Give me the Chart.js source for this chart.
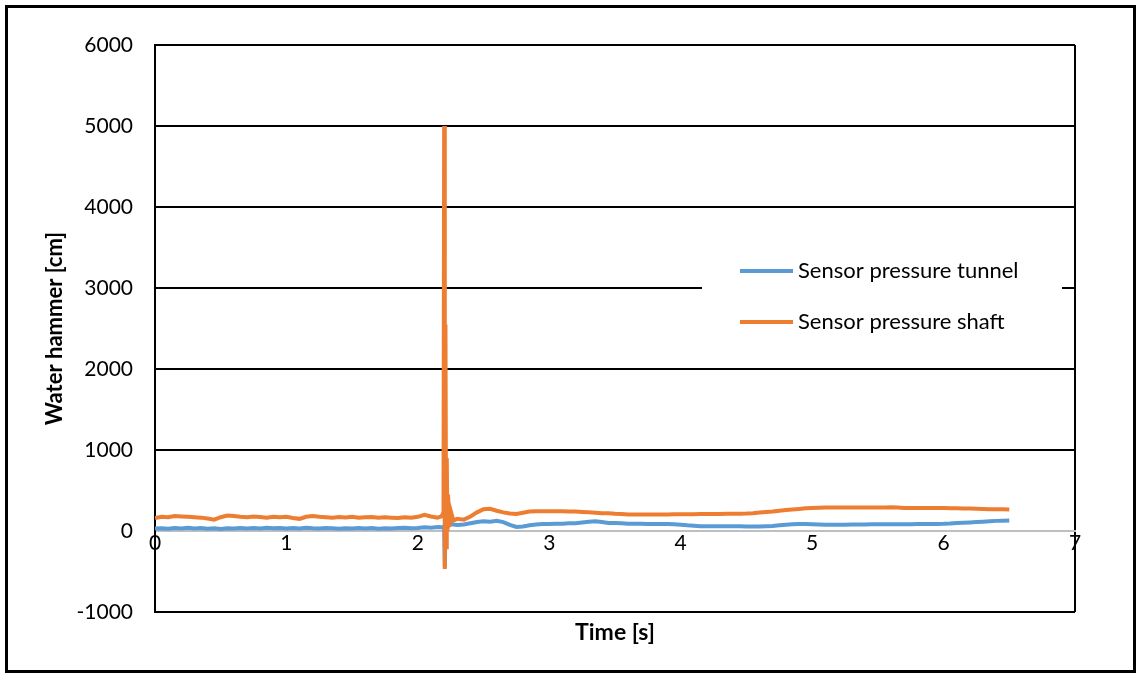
<!DOCTYPE html>
<html>
<head>
<meta charset="utf-8">
<script src="https://cdn.jsdelivr.net/npm/chart.js@4.4.1/dist/chart.umd.min.js"></script>
<style>
  body { margin: 0; background: #fff; }
  #wrap { width: 1138px; height: 675px; position: relative; }
</style>
</head>
<body>
<div id="wrap"><canvas id="chart"></canvas></div>
<script>
// time [s]
const time = [
    0, 0.05, 0.1, 0.15, 0.2, 0.25, 0.3, 0.35, 0.4, 0.45,
    0.5, 0.55, 0.6, 0.65, 0.7, 0.75, 0.8, 0.85, 0.9, 0.95,
    1.0, 1.05, 1.1, 1.15, 1.2, 1.25, 1.3, 1.35, 1.4, 1.45,
    1.5, 1.55, 1.6, 1.65, 1.7, 1.75, 1.8, 1.85, 1.9, 1.95,
    2.0, 2.05, 2.1, 2.15,
    // around the surge
    2.18, 2.195, 2.2, 2.205, 2.21, 2.215, 2.22, 2.225, 2.23, 2.24, 2.25, 2.27, 2.3,
    2.35, 2.4, 2.45, 2.5, 2.55, 2.6, 2.65, 2.7, 2.75, 2.8,
    2.85, 2.9, 2.95, 3.0, 3.05, 3.1, 3.15, 3.2, 3.25, 3.3,
    3.35, 3.4, 3.45, 3.5, 3.55, 3.6, 3.65, 3.7, 3.75, 3.8,
    3.85, 3.9, 3.95, 4.0, 4.05, 4.1, 4.15, 4.2, 4.25, 4.3,
    4.35, 4.4, 4.45, 4.5, 4.55, 4.6, 4.65, 4.7, 4.75, 4.8,
    4.85, 4.9, 4.95, 5.0, 5.05, 5.1, 5.15, 5.2, 5.25, 5.3,
    5.35, 5.4, 5.45, 5.5, 5.55, 5.6, 5.65, 5.7, 5.75, 5.8,
    5.85, 5.9, 5.95, 6.0, 6.05, 6.1, 6.15, 6.2, 6.25, 6.3,
    6.35, 6.4, 6.45, 6.5
];

const tunnel = [
    30, 35, 28, 38, 32, 40, 30, 36, 28, 33,
    25, 34, 30, 38, 32, 36, 30, 40, 34, 38,
    30, 36, 32, 40, 34, 30, 38, 33, 28, 35,
    30, 38, 32, 36, 28, 34, 30, 38, 40, 35,
    38, 45, 40, 48,
    45, 50, 60, -440, 100, 60, 70, 50, 80, 70, 85, 80, 75,
    80, 95, 110, 120, 115, 125, 110, 75, 50, 55,
    70, 80, 85, 85, 90, 90, 95, 95, 105, 115,
    120, 110, 100, 100, 95, 90, 90, 88, 85, 85,
    85, 85, 82, 78, 70, 65, 60, 58, 58, 60,
    60, 60, 58, 55, 55, 55, 58, 62, 70, 78,
    82, 85, 85, 82, 80, 78, 78, 78, 78, 80,
    80, 80, 82, 82, 82, 84, 84, 84, 84, 85,
    85, 85, 86, 88, 92, 98, 102, 106, 110, 115,
    120, 125, 128, 130
];

const shaft = [
    160, 175, 170, 185, 180, 175, 170, 165, 155, 140,
    170, 190, 185, 175, 170, 178, 172, 165, 175, 170,
    175, 160, 150, 175, 185, 175, 170, 165, 172, 168,
    175, 165, 170, 172, 165, 170, 165, 160, 170, 165,
    175, 200, 180, 165,
    180, 230, 5000, -470, 2550, -200, 900, 0, 450, 50, 250, 130, 150,
    140, 180, 230, 270, 275, 250, 230, 215, 210, 225,
    240, 245, 245, 245, 245, 245, 240, 240, 235, 230,
    225, 220, 218, 212, 210, 205, 205, 205, 205, 205,
    205, 205, 207, 208, 208, 208, 210, 210, 210, 210,
    212, 212, 212, 215, 220, 228, 235, 240, 250, 258,
    265, 272, 280, 285, 288, 290, 290, 290, 290, 290,
    290, 290, 290, 290, 290, 292, 290, 285, 283, 283,
    283, 283, 283, 283, 282, 280, 278, 278, 275, 272,
    270, 270, 268, 265
];

const seriesNames = ['Sensor pressure tunnel', 'Sensor pressure shaft'];
const seriesColors = ['#5B9BD5', '#ED7D31'];
const xTitle = 'Time [s]';
const yTitle = 'Water hammer [cm]';

const FONT = 'Lato, "Noto Sans", sans-serif';

function toPoints(values) {
    return time.map((t, i) => ({ x: t, y: values[i] }));
}

// frame round the whole picture + legend box inside the plot
const decorPlugin = {
    id: 'decor',
    afterDraw(chart) {
        const ctx = chart.ctx;
        ctx.save();
        // legend
        ctx.fillStyle = '#fff';
        ctx.fillRect(702, 250, 360, 100);
        ctx.font = '22px ' + FONT;
        ctx.textBaseline = 'middle';
        ctx.textAlign = 'left';
        chart.data.datasets.forEach((ds, i) => {
            const y = 271 + i * 51;
            ctx.strokeStyle = ds.borderColor;
            ctx.lineWidth = 4;
            ctx.beginPath();
            ctx.moveTo(740, y);
            ctx.lineTo(793, y);
            ctx.stroke();
            ctx.fillStyle = '#000';
            ctx.fillText(ds.label, 798, y);
        });
        // outer frame
        ctx.strokeStyle = '#000';
        ctx.lineWidth = 3;
        ctx.strokeRect(6.5, 6.5, 1128, 665);
        ctx.restore();
    }
};

new Chart(document.getElementById('chart'), {
    type: 'line',
    data: {
        datasets: [
            {
                label: seriesNames[0],
                data: toPoints(tunnel),
                borderColor: seriesColors[0],
                borderWidth: 4,
                pointRadius: 0,
                tension: 0,
                order: 1
            },
            {
                label: seriesNames[1],
                data: toPoints(shaft),
                borderColor: seriesColors[1],
                borderWidth: 4,
                pointRadius: 0,
                tension: 0,
                order: 0
            }
        ]
    },
    options: {
        responsive: true,
        maintainAspectRatio: false,
        animation: false,
        layout: { padding: { left: 8, right: 63, top: 45, bottom: 8 } },
        plugins: {
            legend: { display: false },
            tooltip: { enabled: false }
        },
        scales: {
            x: {
                type: 'linear',
                position: { y: 0 },
                min: 0,
                max: 7,
                ticks: { stepSize: 1, padding: 0, color: '#000', font: { family: FONT, size: 21 } },
                grid: {
                    drawTicks: false,
                    lineWidth: 2,
                    color: c => (c.tick && c.tick.value === 7) ? '#000' : 'rgba(0,0,0,0)'
                },
                border: { color: '#bfbfbf', width: 2 }
            },
            x2: {
                type: 'linear',
                axis: 'x',
                position: 'bottom',
                min: 0,
                max: 7,
                ticks: { display: false },
                grid: { display: false },
                border: { display: false },
                title: {
                    display: true,
                    text: xTitle,
                    color: '#000',
                    font: { family: FONT, size: 23, weight: 'bold', lineHeight: 1.2 },
                    padding: { top: 0, bottom: 21 }
                },
                afterFit: s => { s.height = 55; }
            },
            y: {
                min: -1000,
                max: 6000,
                ticks: {
                    stepSize: 1000,
                    padding: 22,
                    color: '#000',
                    font: { family: FONT, size: 21 },
                    callback: v => String(v)
                },
                grid: {
                    drawTicks: false,
                    lineWidth: 2,
                    color: c => (c.tick && c.tick.value === 0) ? '#bfbfbf' : '#000'
                },
                border: { color: '#000', width: 2 },
                title: {
                    display: true,
                    text: yTitle,
                    color: '#000',
                    font: { family: FONT, size: 22, weight: 'bold', lineHeight: 1.2 },
                    padding: { top: 34, bottom: 0 }
                },
                afterFit: s => { s.width = 147; }
            }
        }
    },
    plugins: [decorPlugin]
});
</script>
</body>
</html>
